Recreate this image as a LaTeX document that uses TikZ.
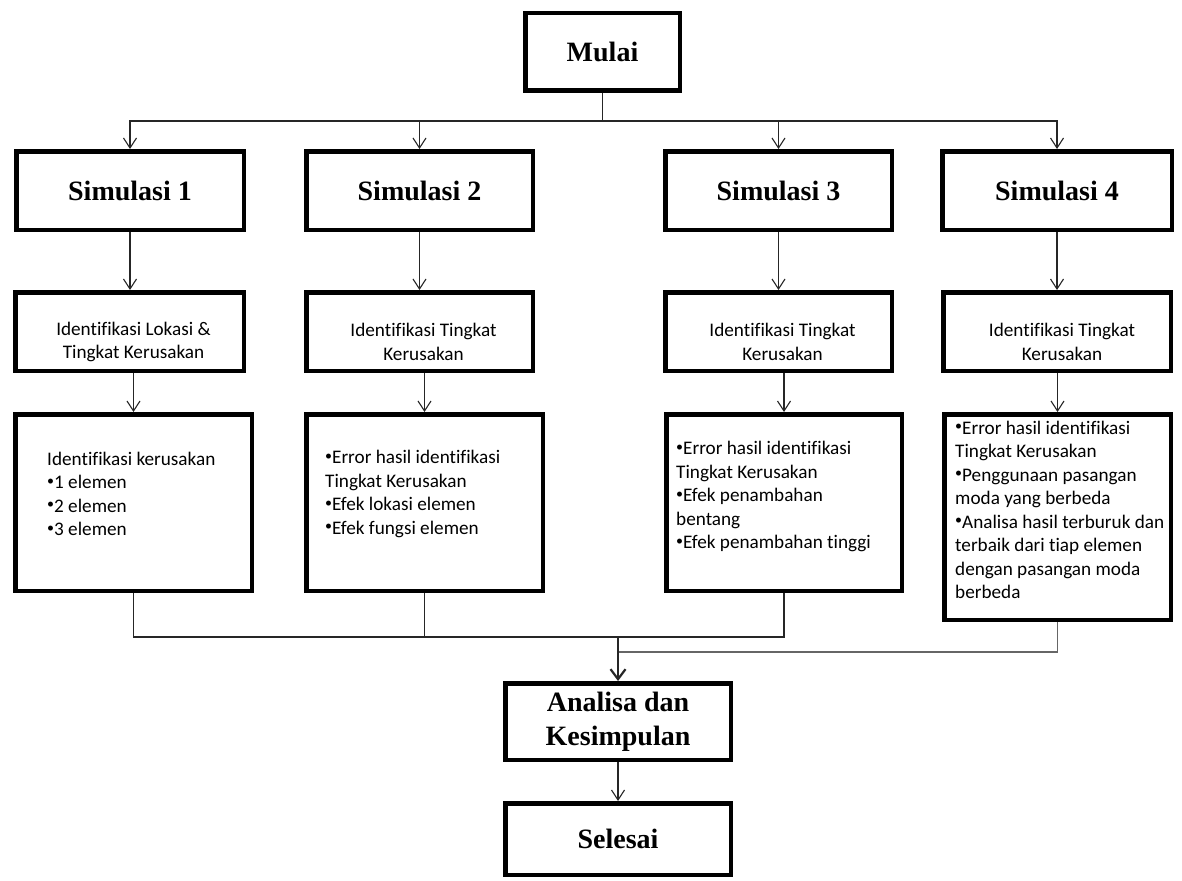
\documentclass[tikz,border=0pt]{standalone}
\usepackage{fontspec}
\setmainfont{Liberation Serif}
\newfontfamily\calfont[Ligatures=NoCommon]{Carlito}
\usetikzlibrary{arrows.meta}
\newcommand\bul{\raisebox{3.5pt}{\fontsize{14}{14}\selectfont\textbullet}}
\begin{document}
\begin{tikzpicture}[x=1pt,y=-1pt,
  box/.style={draw=black, line width=4.5pt, inner sep=0pt, fill=white},
  title/.style={font=\fontsize{28}{34}\selectfont\bfseries, align=center},
  body/.style={font=\calfont\fontsize{19.2}{23.5}\selectfont, inner sep=0pt},
  conn/.style={draw=black!85, line width=1.1pt},
  arr/.style={conn, -{Straight Barb[length=10pt,width=13pt]}},
]
\useasboundingbox (0,0) rectangle (1182,880);
\fill[white] (0,0) rectangle (1182,880);

% boxes
\node[box,title,minimum width=154.5pt,minimum height=77.5pt] (mulai) at (602.5,52) {Mulai};

\node[box,title,minimum width=227.5pt,minimum height=78.5pt] (s1) at (130,190.5) {Simulasi 1};
\node[box,title,minimum width=226.5pt,minimum height=78.5pt] (s2) at (419.5,190.5) {Simulasi 2};
\node[box,title,minimum width=226.5pt,minimum height=78.5pt] (s3) at (778.5,190.5) {Simulasi 3};
\node[box,title,minimum width=229.5pt,minimum height=78.5pt] (s4) at (1057,190.5) {Simulasi 4};

\node[box,minimum width=228.5pt,minimum height=78.5pt] (i1) at (129.5,331.5) {};
\node[box,minimum width=226.5pt,minimum height=78.5pt] (i2) at (419.5,331.5) {};
\node[box,minimum width=226.5pt,minimum height=78.5pt] (i3) at (778.5,331.5) {};
\node[box,minimum width=227.5pt,minimum height=78.5pt] (i4) at (1057,331.5) {};

\node[box,minimum width=236.5pt,minimum height=176.5pt] (l1) at (133.5,502.5) {};
\node[box,minimum width=236.5pt,minimum height=176.5pt] (l2) at (424.5,502.5) {};
\node[box,minimum width=235.5pt,minimum height=176.5pt] (l3) at (784,502.5) {};
\node[box,minimum width=226.5pt,minimum height=205.5pt] (l4) at (1057.5,517) {};

\node[box,title,minimum width=225.5pt,minimum height=76.5pt] (an) at (618,721.5) {Analisa dan\\Kesimpulan};
\node[box,title,minimum width=225.5pt,minimum height=71.5pt] (se) at (618,839) {Selesai};

% texts
\node[body,align=center] (i1t) at (133.5,342) {Identifikasi Lokasi \&\\Tingkat Kerusakan};
\node[body,align=center] (i2t) at (423.5,342) {Identifikasi Tingkat\\Kerusakan};
\node[body,align=center] (i3t) at (782.5,342) {Identifikasi Tingkat\\Kerusakan};
\node[body,align=center] (i4t) at (1062,342) {Identifikasi Tingkat\\Kerusakan};

\node[body,align=left,anchor=west] (l1t) at (47,494) {Identifikasi kerusakan\\\bul1 elemen\\\bul2 elemen\\\bul3 elemen};
\node[body,align=left,anchor=west] (l2t) at (325,494) {\bul Error hasil identifikasi\\Tingkat Kerusakan\\\bul Efek lokasi elemen\\\bul Efek fungsi elemen};
\node[body,align=left,anchor=west] (l3t) at (676,496.5) {\bul Error hasil identifikasi\\Tingkat Kerusakan\\\bul Efek penambahan\\bentang\\\bul Efek penambahan tinggi};
\node[body,align=left,anchor=west] (l4t) at (955,510) {\bul Error hasil identifikasi\\Tingkat Kerusakan\\\bul Penggunaan pasangan\\moda yang berbeda\\\bul Analisa hasil terburuk dan\\terbaik dari tiap elemen\\dengan pasangan moda\\berbeda};

% connectors
\coordinate (split) at (602.5,121);
\draw[conn] (mulai.south) -- (split);
\draw[arr] (split) -| (s1.north);
\draw[arr] (split) -| (s2.north);
\draw[arr] (split) -| (s3.north);
\draw[arr] (split) -| (s4.north);

\draw[arr] (s1.south) -- (s1.south |- i1.north);
\draw[arr] (s2.south) -- (s2.south |- i2.north);
\draw[arr] (s3.south) -- (s3.south |- i3.north);
\draw[arr] (s4.south) -- (s4.south |- i4.north);

\draw[arr] (i1.south -| l1.north) -- (l1.north);
\draw[arr] (i2.south -| l2.north) -- (l2.north);
\draw[arr] (i3.south -| l3.north) -- (l3.north);
\draw[arr] (i4.south -| l4.north) -- (l4.north);

\coordinate (m1) at (618,637);
\coordinate (m2) at (618,652);
\draw[conn] (l1.south) |- (l3.south |- m1) -- (l3.south);
\draw[conn] (l2.south) -- (l2.south |- m1);
\draw[conn,draw=black!60] (l4.south) |- (m2);
\draw[conn,line width=2.2pt,-{Straight Barb[length=10pt,width=15pt]}] (m1) -- (an.north);
\draw[arr] (an.south) -- (se.north);
\end{tikzpicture}
\end{document}
